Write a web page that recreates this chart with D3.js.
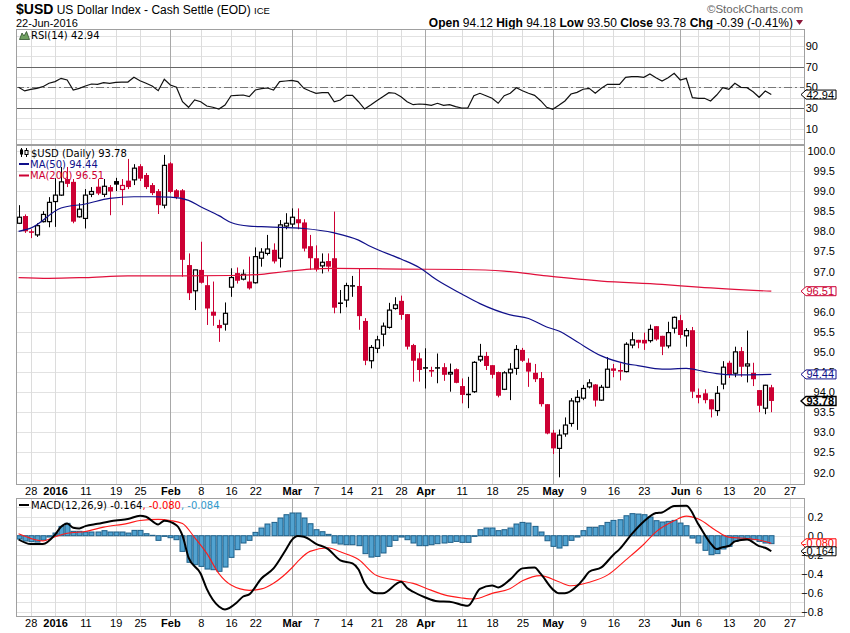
<!DOCTYPE html>
<html>
<head>
<meta charset="utf-8">
<script src="https://cdn.jsdelivr.net/npm/d3@7"></script>
<style>
  body { margin: 0; background: #fff; }
  svg { display: block; font-family: "Liberation Sans", Arial, sans-serif; }
  .legend { font-family: "DejaVu Sans", Verdana, sans-serif; font-size: 10px; }
</style>
</head>
<body>
<svg id="chart" width="850" height="633"></svg>
<script>
// trading days on the chart, 23-Dec-2015 .. 22-Jun-2016
const months = ["2015-12", "2016-01", "2016-02", "2016-03", "2016-04", "2016-05", "2016-06"];
const monthDays = [
  [23, 24, 28, 29, 30, 31],
  [4, 5, 6, 7, 8, 11, 12, 13, 14, 15, 19, 20, 21, 22, 25, 26, 27, 28, 29],
  [1, 2, 3, 4, 5, 8, 9, 10, 11, 12, 16, 17, 18, 19, 22, 23, 24, 25, 26, 29],
  [1, 2, 3, 4, 7, 8, 9, 10, 11, 14, 15, 16, 17, 18, 21, 22, 23, 24, 28, 29, 30, 31],
  [1, 4, 5, 6, 7, 8, 11, 12, 13, 14, 15, 18, 19, 20, 21, 22, 25, 26, 27, 28, 29],
  [2, 3, 4, 5, 6, 9, 10, 11, 12, 13, 16, 17, 18, 19, 20, 23, 24, 25, 26, 27, 31],
  [1, 2, 3, 6, 7, 8, 9, 10, 13, 14, 15, 16, 17, 20, 21, 22]
];
const futureDays = ["2016-06-23", "2016-06-24", "2016-06-27"];

const opens = [
  98.20, 98.38, 98.00, 97.91, 98.24, 98.24, 98.74, 98.90, 99.30, 99.23,
  98.36, 98.32, 98.92, 99.11, 98.92, 99.10, 99.25, 99.04, 99.26, 99.28,
  99.62, 99.40, 99.15, 99.00, 98.65, 99.69, 99.02, 99.02, 97.16, 96.52,
  97.04, 96.66, 96.00, 95.67, 95.69, 96.61, 96.96, 96.81, 96.75, 96.72,
  97.33, 97.45, 97.54, 97.33, 98.13, 98.18, 98.30, 98.22, 97.63, 97.33,
  97.14, 97.26, 97.33, 96.23, 96.29, 96.66, 96.64, 95.77, 94.78, 95.09,
  95.44, 95.61, 96.08, 96.27, 95.94, 95.17, 94.84, 94.62, 94.55, 94.62,
  94.62, 94.45, 94.57, 94.15, 93.96, 94.01, 94.80, 94.90, 94.67, 94.50,
  94.07, 94.48, 94.59, 95.05, 94.73, 94.48, 94.35, 93.70, 92.99, 92.60,
  92.96, 93.22, 93.76, 93.85, 94.13, 94.19, 93.80, 94.12, 94.59, 94.55,
  94.51, 95.17, 95.30, 95.30, 95.28, 95.64, 95.40, 95.15, 95.59, 95.79,
  95.40, 95.54, 93.93, 93.97, 93.82, 93.54, 94.20, 94.73, 94.47, 95.02,
  94.65, 94.48, 94.05, 93.60, 94.12
];
const highs = [
  98.65, 98.42, 98.05, 98.20, 98.50, 98.85, 99.32, 99.60, 99.60, 99.30,
  98.70, 99.05, 99.10, 99.30, 99.30, 99.15, 99.33, 99.30, 99.80, 99.67,
  99.67, 99.45, 99.20, 99.05, 99.90, 99.72, 99.05, 99.05, 97.45, 97.04,
  97.74, 96.89, 96.75, 95.80, 96.23, 97.08, 97.10, 97.05, 97.37, 97.60,
  97.58, 97.91, 97.70, 98.28, 98.45, 98.57, 98.57, 98.30, 97.91, 97.65,
  97.45, 97.45, 98.49, 96.54, 96.72, 96.89, 97.08, 95.84, 95.17, 95.40,
  95.73, 96.22, 96.36, 96.40, 95.94, 95.20, 94.98, 95.09, 94.63, 94.96,
  94.72, 94.71, 94.59, 94.34, 94.38, 94.77, 95.20, 95.00, 94.67, 94.51,
  94.52, 94.72, 95.17, 95.10, 94.84, 94.70, 94.50, 93.70, 93.06, 93.07,
  93.37, 93.85, 94.05, 94.18, 94.32, 94.20, 94.18, 94.87, 94.70, 94.72,
  95.24, 95.49, 95.30, 95.48, 95.68, 95.64, 95.40, 95.75, 95.88, 95.92,
  95.59, 95.62, 94.09, 94.07, 93.82, 94.15, 94.77, 94.78, 95.13, 95.12,
  95.53, 94.73, 94.05, 94.18, 94.18
];
const lows = [
  98.18, 97.96, 97.83, 97.86, 98.22, 98.10, 98.11, 98.88, 99.10, 98.20,
  98.34, 98.07, 98.85, 98.90, 98.85, 98.40, 99.00, 98.65, 99.05, 99.15,
  99.25, 99.05, 98.90, 98.43, 98.57, 98.95, 98.80, 96.87, 96.29, 96.04,
  96.70, 95.67, 95.65, 95.25, 95.53, 96.37, 96.70, 96.78, 96.55, 96.70,
  97.12, 97.40, 97.20, 97.10, 98.05, 98.10, 98.05, 97.50, 97.04, 97.00,
  96.95, 97.00, 95.96, 95.96, 96.11, 96.37, 95.55, 94.67, 94.59, 94.97,
  95.14, 95.58, 96.05, 95.80, 95.06, 94.26, 94.26, 94.09, 94.38, 94.22,
  94.28, 94.01, 94.22, 93.72, 93.60, 93.98, 94.75, 94.55, 94.34, 93.87,
  94.05, 93.80, 94.43, 94.75, 94.13, 94.25, 93.64, 92.95, 92.46, 91.88,
  92.89, 93.14, 93.06, 93.80, 94.09, 93.64, 93.78, 94.10, 94.37, 94.29,
  94.49, 95.09, 95.09, 95.05, 95.23, 95.28, 94.92, 95.09, 95.46, 95.34,
  95.13, 93.85, 93.72, 93.72, 93.37, 93.41, 94.07, 94.35, 94.37, 94.38,
  94.24, 94.15, 93.50, 93.45, 93.50
];
const closes = [
  98.35, 98.00, 97.97, 98.14, 98.42, 98.72, 98.90, 99.23, 99.18, 98.24,
  98.55, 98.90, 98.99, 98.94, 99.12, 98.99, 99.16, 99.14, 99.10, 99.57,
  99.31, 99.10, 98.95, 98.65, 99.64, 98.98, 98.85, 97.29, 96.46, 97.04,
  96.72, 96.08, 95.90, 95.59, 95.96, 96.85, 96.77, 96.93, 96.58, 97.37,
  97.48, 97.56, 97.25, 98.16, 98.20, 98.35, 98.20, 97.57, 97.33, 97.05,
  97.23, 97.12, 96.10, 96.22, 96.65, 96.65, 95.89, 94.78, 95.11, 95.30,
  95.64, 96.04, 96.17, 95.92, 95.13, 94.78, 94.55, 94.61, 94.51, 94.61,
  94.43, 94.49, 94.23, 93.93, 93.95, 94.74, 94.89, 94.65, 94.43, 93.91,
  94.48, 94.57, 95.06, 94.78, 94.51, 94.32, 93.70, 92.97, 92.60, 92.93,
  93.18, 93.78, 93.87, 94.09, 94.23, 93.79, 94.12, 94.57, 94.53, 94.51,
  95.19, 95.30, 95.23, 95.21, 95.56, 95.31, 95.13, 95.48, 95.86, 95.42,
  95.53, 94.01, 93.86, 93.80, 93.57, 93.97, 94.62, 94.43, 95.00, 94.63,
  94.70, 94.32, 93.66, 94.17, 93.78
];

// [day index, value]
const ma50Pts = [
  [0, 98.0], [2, 98.08], [7, 98.58], [11, 98.68], [15, 98.82], [19, 98.86], [22, 98.86],
  [25, 98.85], [28, 98.77], [30, 98.61], [33, 98.39], [35, 98.22], [38, 98.13], [41, 98.11],
  [47, 98.07], [52, 97.96], [56, 97.78], [58, 97.62], [63, 97.31], [66, 97.1], [69, 96.78],
  [73, 96.44], [76, 96.2], [81, 95.92], [84, 95.83], [87, 95.62], [89, 95.52], [92, 95.25],
  [96, 94.9], [100, 94.71], [102, 94.66], [106, 94.57], [110, 94.59], [113, 94.51],
  [115, 94.46], [118, 94.43], [124, 94.44]
];
const ma200Pts = [
  [0, 96.85], [5, 96.83], [11, 96.85], [18, 96.89], [27, 96.89], [35, 96.9], [40, 96.93],
  [44, 97.0], [48, 97.06], [52, 97.08], [63, 97.06], [73, 97.05], [80, 97.01], [87, 96.89],
  [96, 96.76], [106, 96.68], [112, 96.61], [124, 96.51]
];

const rsi = [
  50.0, 46.5, 48.0, 49.0, 50.6, 53.9, 55.5, 58.7, 57.1, 47.4,
  49.0, 51.3, 53.2, 52.9, 54.5, 53.9, 54.8, 55.1, 55.1, 59.7,
  56.4, 53.9, 51.3, 46.7, 57.8, 52.2, 50.0, 36.0, 30.6, 37.7,
  36.0, 31.8, 30.6, 28.9, 32.8, 41.8, 42.2, 42.5, 40.9, 47.4,
  48.7, 49.3, 47.4, 55.5, 56.1, 56.8, 55.5, 49.0, 46.4, 44.2,
  44.8, 44.8, 36.0, 37.7, 42.2, 42.2, 36.0, 28.9, 32.8, 37.0,
  40.9, 44.8, 44.2, 40.9, 36.0, 33.1, 33.8, 33.5, 32.5, 34.5,
  32.5, 33.1, 31.2, 29.9, 29.9, 41.8, 44.2, 41.8, 39.3, 34.5,
  41.8, 44.2, 49.6, 46.7, 44.2, 42.2, 37.0, 30.6, 28.6, 32.5,
  36.7, 43.5, 45.1, 48.1, 49.0, 44.2, 49.0, 52.9, 52.9, 52.9,
  59.7, 60.3, 60.3, 59.7, 62.9, 59.3, 56.1, 59.3, 63.6, 57.1,
  58.7, 39.9, 39.3, 39.3, 36.7, 42.5, 49.6, 48.1, 53.9, 50.0,
  49.6, 45.7, 40.3, 46.4, 42.94
];

const macdPts = [
  [0, -0.04], [2, -0.088], [4, -0.088], [6, 0.01], [7, 0.094], [8, 0.129], [9, 0.083],
  [10, 0.077], [11, 0.101], [13, 0.125], [16, 0.16], [18, 0.175], [20, 0.21], [21, 0.199],
  [23, 0.119], [24, 0.157], [26, 0.11], [27, 0.0], [28, -0.23], [30, -0.40], [31, -0.56],
  [33, -0.745], [34, -0.776], [36, -0.70], [37, -0.64], [38, -0.618], [40, -0.45],
  [42, -0.344], [44, -0.15], [45, -0.046], [46, -0.004], [47, -0.011], [49, -0.085],
  [51, -0.141], [53, -0.26], [55, -0.292], [56, -0.355], [57, -0.50], [59, -0.607],
  [60, -0.607], [63, -0.485], [64, -0.55], [65, -0.59], [67, -0.65], [69, -0.69],
  [71, -0.695], [74, -0.738], [76, -0.56], [78, -0.523], [79, -0.544], [81, -0.46],
  [83, -0.344], [85, -0.334], [86, -0.40], [88, -0.565], [89, -0.607], [90, -0.607],
  [92, -0.53], [93, -0.46], [94, -0.38], [96, -0.334], [98, -0.20], [99, -0.141],
  [101, 0.017], [103, 0.15], [105, 0.238], [106, 0.245], [108, 0.312], [110, 0.315],
  [112, 0.119], [114, -0.08], [115, -0.141], [116, -0.12], [117, -0.109], [118, -0.06],
  [120, -0.039], [122, -0.11], [123, -0.127], [124, -0.164]
];
const signalPts = [
  [0, 0.02], [2, -0.028], [4, -0.054], [6, -0.011], [8, 0.025], [11, 0.045], [14, 0.09],
  [18, 0.13], [20, 0.16], [23, 0.172], [25, 0.16], [27, 0.129], [29, -0.02], [31, -0.186],
  [33, -0.40], [35, -0.52], [38, -0.575], [40, -0.56], [42, -0.50], [45, -0.34], [46, -0.27],
  [48, -0.165], [51, -0.127], [53, -0.17], [56, -0.25], [59, -0.42], [63, -0.476],
  [65, -0.502], [67, -0.55], [70, -0.62], [73, -0.655], [75, -0.667], [78, -0.607],
  [81, -0.555], [83, -0.475], [86, -0.42], [89, -0.485], [91, -0.527], [94, -0.49],
  [97, -0.415], [100, -0.257], [103, -0.09], [105, 0.04], [108, 0.157], [110, 0.206],
  [112, 0.175], [115, 0.05], [117, -0.015], [120, -0.03], [122, -0.046], [124, -0.08]
];
const hist = [
  -0.035, -0.056, -0.063, -0.067, -0.046, -0.014, 0.028, 0.098, 0.13, 0.046,
  0.046, 0.039, 0.039, 0.039, 0.053, 0.039, 0.039, 0.039, 0.028, 0.056,
  0.056, 0.021, 0.004, -0.049, -0.007, -0.021, -0.042, -0.165, -0.28, -0.305,
  -0.323, -0.351, -0.358, -0.375, -0.33, -0.228, -0.147, -0.077, -0.049, 0.035,
  0.081, 0.123, 0.14, 0.186, 0.221, 0.239, 0.239, 0.186, 0.126, 0.063,
  0.042, 0.014, -0.077, -0.088, -0.095, -0.095, -0.105, -0.189, -0.225, -0.218,
  -0.182, -0.112, -0.049, -0.014, -0.042, -0.077, -0.105, -0.105, -0.095, -0.084,
  -0.077, -0.07, -0.06, -0.07, -0.07, -0.007, 0.063, 0.081, 0.081, 0.053,
  0.063, 0.081, 0.123, 0.14, 0.133, 0.098, 0.039, -0.053, -0.112, -0.13,
  -0.105, -0.049, -0.014, 0.053, 0.088, 0.088, 0.105, 0.14, 0.161, 0.168,
  0.21, 0.232, 0.228, 0.221, 0.196, 0.158, 0.144, 0.151, 0.161, 0.133,
  0.105, -0.025, -0.077, -0.154, -0.2, -0.189, -0.14, -0.112, -0.06, -0.042,
  -0.035, -0.042, -0.06, -0.077, -0.084
];

const tickDates = [
  "2015-12-28", "2016-01-04", "2016-01-11", "2016-01-19", "2016-01-25", "2016-02-01",
  "2016-02-08", "2016-02-16", "2016-02-22", "2016-03-01", "2016-03-07", "2016-03-14",
  "2016-03-21", "2016-03-28", "2016-04-01", "2016-04-11", "2016-04-18", "2016-04-25",
  "2016-05-02", "2016-05-09", "2016-05-16", "2016-05-23", "2016-06-01", "2016-06-06",
  "2016-06-13", "2016-06-20", "2016-06-27"
];
const tickLabels = [
  "28", "2016", "11", "19", "25", "Feb", "8", "16", "22", "Mar", "7", "14", "21", "28",
  "Apr", "11", "18", "25", "May", "9", "16", "23", "Jun", "6", "13", "20", "27"
];
const boldLabels = ["2016", "Feb", "Mar", "Apr", "May", "Jun"];
const monthLabels = ["Feb", "Mar", "Apr", "May", "Jun"];

const priceTicks = d3.range(92, 100.001, 0.5);
const rsiTicks = [10, 30, 50, 70, 90];
const macdTicks = [0.2, 0.0, -0.2, -0.4, -0.6, -0.8];

// ---------------------------------------------------------------
const svg = d3.select("#chart");
const left = 16;
const right = 804;
const rsiBox = { top: 29, bottom: 144 };
const priceBox = { top: 145, bottom: 484 };
const macdBox = { top: 498, bottom: 616 };
const red = "#cc0033";
const navy = "#10108a";

const dates = months.flatMap((m, k) =>
  monthDays[k].map((d) => `${m}-${String(d).padStart(2, "0")}`)
);
const axisDays = dates.concat(futureDays);

const x = d3.scaleLinear().domain([0, 124]).range([18.6, 771.3]);
const yRsi = d3.scaleLinear().domain([0, 100]).range([138.8, 35.8]);
const yPrice = d3.scaleLinear().domain([92, 100]).range([472.5, 150.9]);
const yMacd = d3.scaleLinear().domain([-0.8, 0.2]).range([611.7, 516.7]);

const ticks = tickDates.map((d, k) => ({
  i: axisDays.indexOf(d),
  label: tickLabels[k],
  month: monthLabels.includes(tickLabels[k]),
}));

svg.append("rect").attr("width", 850).attr("height", 633).attr("fill", "white");

const px = (v) => Math.round(v) + 0.5;

function grid(box, yScale, yLines) {
  const g = svg.append("g");
  g.selectAll(".hgrid")
    .data(yLines)
    .join("line")
    .attr("class", "hgrid")
    .attr("x1", left)
    .attr("x2", right)
    .attr("y1", (d) => px(yScale(d)))
    .attr("y2", (d) => px(yScale(d)))
    .attr("stroke", "#e2e2e2");
  g.selectAll(".vgrid")
    .data(ticks)
    .join("line")
    .attr("class", "vgrid")
    .attr("x1", (d) => px(x(d.i)))
    .attr("x2", (d) => px(x(d.i)))
    .attr("y1", box.top)
    .attr("y2", box.bottom)
    .attr("stroke", (d) => (d.month ? "#a8a8a8" : "#dcdcdc"));
  return g;
}

function border(box) {
  svg
    .append("rect")
    .attr("x", left + 0.5)
    .attr("y", box.top + 0.5)
    .attr("width", right - left)
    .attr("height", box.bottom - box.top)
    .attr("fill", "none")
    .attr("stroke", "#a0a0a0");
}

function rightAxis(yScale, values, fmt, anchorX) {
  const g = svg
    .append("g")
    .attr("transform", `translate(${right},0)`)
    .call(d3.axisRight(yScale).tickValues(values).tickFormat(fmt).tickSize(0));
  g.select(".domain").remove();
  g.attr("font-family", null).attr("font-size", 11);
  g.selectAll(".tick text")
    .attr("text-anchor", "end")
    .attr("x", anchorX - right)
    .attr("fill", "#000");
}

// value tag with a left-pointing tip, drawn over the axis labels
function tag(y, label, color, bold) {
  const g = svg.append("g");
  g.append("path")
    .attr("d", `M801,${y} L806,${y - 4.5} L836,${y - 4.5} L836,${y + 4.5} L806,${y + 4.5} Z`)
    .attr("fill", "white")
    .attr("stroke", color)
    .attr("stroke-width", bold ? 1.4 : 1);
  g.append("text")
    .attr("x", 834)
    .attr("y", y + 4)
    .attr("text-anchor", "end")
    .attr("font-size", 11)
    .attr("font-weight", bold ? "bold" : null)
    .attr("fill", bold ? "#000" : color)
    .text(label);
}

function xAxis(y) {
  const g = svg
    .append("g")
    .attr("transform", `translate(0,${y})`)
    .call(
      d3
        .axisBottom(x)
        .tickValues(ticks.map((d) => d.i))
        .tickFormat((d, k) => ticks[k].label)
        .tickSize(0)
        .tickPadding(3)
    );
  g.select(".domain").remove();
  g.attr("font-family", null).attr("font-size", 11);
  g.selectAll(".tick text")
    .attr("fill", "#000")
    .attr("font-weight", (d, k) => (boldLabels.includes(ticks[k].label) ? "bold" : null));
}

// ---------------- header ----------------
const last = closes.length - 1;
const chg = closes[last] - closes[last - 1];
const pct = (chg / closes[last - 1]) * 100;

const title = svg.append("text").attr("x", 16).attr("y", 14);
title.append("tspan").attr("font-weight", "bold").attr("font-size", 14).text("$USD");
title.append("tspan").attr("font-size", 12).text(" US Dollar Index - Cash Settle (EOD) ");
title.append("tspan").attr("font-size", 9.5).text("ICE");

svg.append("text").attr("x", 16).attr("y", 27).attr("font-size", 11).text("22-Jun-2016");

svg
  .append("text")
  .attr("x", 803)
  .attr("y", 13)
  .attr("text-anchor", "end")
  .attr("font-size", 11.5)
  .attr("fill", "#666")
  .text("\u00A9StockCharts.com");

const quote = svg
  .append("text")
  .attr("x", 793)
  .attr("y", 27)
  .attr("text-anchor", "end")
  .attr("font-size", 12);
[
  ["Open", opens[last].toFixed(2)],
  ["High", highs[last].toFixed(2)],
  ["Low", lows[last].toFixed(2)],
  ["Close", closes[last].toFixed(2)],
  ["Chg", `${chg.toFixed(2)} (${pct.toFixed(2)}%)`],
].forEach(([k, v], n) => {
  quote.append("tspan").attr("font-weight", "bold").text((n ? "  " : "") + k + " ");
  quote.append("tspan").text(v);
});
svg.append("path").attr("d", "M796,20 L803,20 L799.5,25 Z").attr("fill", "#8b1538");

// ---------------- RSI panel ----------------
grid(rsiBox, yRsi, d3.range(0, 101, 10));
svg
  .selectAll(".rsiBand")
  .data([70, 30])
  .join("line")
  .attr("class", "rsiBand")
  .attr("x1", left)
  .attr("x2", right)
  .attr("y1", (d) => px(yRsi(d)))
  .attr("y2", (d) => px(yRsi(d)))
  .attr("stroke", "#666");
svg
  .append("line")
  .attr("x1", left)
  .attr("x2", right)
  .attr("y1", px(yRsi(50)))
  .attr("y2", px(yRsi(50)))
  .attr("stroke", "#777")
  .attr("stroke-dasharray", "8,3,2,3");

svg
  .append("path")
  .datum(rsi)
  .attr("fill", "none")
  .attr("stroke", "#111")
  .attr("stroke-width", 1.2)
  .attr("d", d3.line().x((d, i) => x(i)).y((d) => yRsi(d)));
border(rsiBox);
rightAxis(yRsi, rsiTicks, d3.format("d"), 818);
tag(yRsi(rsi[last]), rsi[last].toFixed(2), "#000", false);

svg
  .append("path")
  .attr("d", "M19.5,39.5 L22,33 L24,36 L26.5,31.5 L29.5,39.5 Z")
  .attr("fill", "#6f9f60")
  .attr("stroke", "#2f4f2a")
  .attr("stroke-width", 0.8);
svg
  .append("text")
  .attr("class", "legend")
  .attr("x", 31)
  .attr("y", 39)
  .text(`RSI(14) ${rsi[last].toFixed(2)}`);

// ---------------- price panel ----------------
grid(priceBox, yPrice, priceTicks);

const candles = closes.map((c, i) => {
  const prev = i ? closes[i - 1] : opens[i];
  return {
    i,
    o: opens[i],
    h: highs[i],
    l: lows[i],
    c,
    color: c < prev ? red : "#000",
    hollow: c > opens[i],
  };
});

const candleG = svg.append("g");
candleG
  .selectAll(".wick")
  .data(candles)
  .join("line")
  .attr("class", "wick")
  .attr("x1", (d) => px(x(d.i)))
  .attr("x2", (d) => px(x(d.i)))
  .attr("y1", (d) => yPrice(d.h))
  .attr("y2", (d) => yPrice(d.l))
  .attr("stroke", (d) => d.color);
candleG
  .selectAll(".body")
  .data(candles)
  .join("rect")
  .attr("class", "body")
  .attr("x", (d) => (d.hollow ? Math.round(x(d.i)) - 1.5 : Math.round(x(d.i)) - 2))
  .attr("width", (d) => (d.hollow ? 4 : 5))
  .attr("y", (d) => yPrice(Math.max(d.o, d.c)))
  .attr("height", (d) => Math.max(1.5, Math.abs(yPrice(d.o) - yPrice(d.c))))
  .attr("fill", (d) => (d.hollow ? "white" : d.color))
  .attr("stroke", (d) => (d.hollow ? d.color : "none"))
  .attr("stroke-width", 1.2);

const maLine = d3
  .line()
  .x((d) => x(d[0]))
  .y((d) => yPrice(d[1]))
  .curve(d3.curveMonotoneX);
svg
  .append("path")
  .datum(ma200Pts)
  .attr("fill", "none")
  .attr("stroke", "#e0103c")
  .attr("stroke-width", 1.2)
  .attr("d", maLine);
svg
  .append("path")
  .datum(ma50Pts)
  .attr("fill", "none")
  .attr("stroke", navy)
  .attr("stroke-width", 1.2)
  .attr("d", maLine);

border(priceBox);
rightAxis(yPrice, priceTicks, d3.format(".1f"), 835);

const ma50Last = ma50Pts[ma50Pts.length - 1][1];
const ma200Last = ma200Pts[ma200Pts.length - 1][1];
tag(yPrice(ma200Last), ma200Last.toFixed(2), red, false);
tag(yPrice(ma50Last), ma50Last.toFixed(2), navy, false);
tag(yPrice(closes[last]), closes[last].toFixed(2), "#000", true);

// legend
const iconG = svg.append("g");
iconG.append("line").attr("x1", 21.5).attr("x2", 21.5).attr("y1", 148).attr("y2", 157).attr("stroke", "#000");
iconG.append("rect").attr("x", 20).attr("y", 149.5).attr("width", 3).attr("height", 5).attr("fill", "#000");
iconG.append("line").attr("x1", 26.5).attr("x2", 26.5).attr("y1", 148).attr("y2", 157).attr("stroke", "#000");
iconG.append("rect").attr("x", 25).attr("y", 150.5).attr("width", 3).attr("height", 4).attr("fill", "white").attr("stroke", "#000");

svg
  .append("text")
  .attr("class", "legend")
  .attr("x", 31)
  .attr("y", 156.5)
  .text(`$USD (Daily) ${closes[last].toFixed(2)}`);

[
  { y: 164, color: navy, text: `MA(50) ${ma50Last.toFixed(2)}` },
  { y: 175.5, color: red, text: `MA(200) ${ma200Last.toFixed(2)}` },
].forEach((d) => {
  svg
    .append("line")
    .attr("x1", 19)
    .attr("x2", 29)
    .attr("y1", d.y)
    .attr("y2", d.y)
    .attr("stroke", d.color)
    .attr("stroke-width", 2);
  svg
    .append("text")
    .attr("class", "legend")
    .attr("x", 30)
    .attr("y", d.y + 3.5)
    .attr("fill", d.color)
    .text(d.text);
});

xAxis(priceBox.bottom);

// ---------------- MACD panel ----------------
grid(macdBox, yMacd, d3.range(-8, 4).map((d) => d / 10));

svg
  .append("g")
  .selectAll("rect")
  .data(hist)
  .join("rect")
  .attr("x", (d, i) => Math.round(x(i)) - 2)
  .attr("width", 5)
  .attr("y", (d) => Math.min(yMacd(d), yMacd(0)))
  .attr("height", (d) => Math.abs(yMacd(d) - yMacd(0)))
  .attr("fill", "#51a2d0")
  .attr("stroke", "#1e5f88")
  .attr("stroke-width", 1);

const macdLine = d3
  .line()
  .x((d) => x(d[0]))
  .y((d) => yMacd(d[1]))
  .curve(d3.curveMonotoneX);
svg
  .append("path")
  .datum(signalPts)
  .attr("fill", "none")
  .attr("stroke", "#ff1a1a")
  .attr("stroke-width", 1.1)
  .attr("d", macdLine);
svg
  .append("path")
  .datum(macdPts)
  .attr("fill", "none")
  .attr("stroke", "#000")
  .attr("stroke-width", 2)
  .attr("d", macdLine);

border(macdBox);
rightAxis(yMacd, macdTicks, d3.format(".1f"), 823);

const macdLast = macdPts[macdPts.length - 1][1];
const signalLast = signalPts[signalPts.length - 1][1];
const histLast = hist[hist.length - 1];
tag(yMacd(signalLast), signalLast.toFixed(3), "#ff0000", false);
tag(yMacd(macdLast), macdLast.toFixed(3), "#000", false);

svg
  .append("line")
  .attr("x1", 19)
  .attr("x2", 29)
  .attr("y1", 505)
  .attr("y2", 505)
  .attr("stroke", "#000")
  .attr("stroke-width", 2);
const macdLegend = svg.append("text").attr("class", "legend").attr("x", 31).attr("y", 508.5);
macdLegend.append("tspan").text(`MACD(12,26,9) ${macdLast.toFixed(3)}`);
macdLegend.append("tspan").attr("fill", "#ff0000").text(`, ${signalLast.toFixed(3)}`);
macdLegend.append("tspan").attr("fill", "#3399cc").text(`, ${histLast.toFixed(3)}`);

xAxis(macdBox.bottom);
</script>
</body>
</html>
